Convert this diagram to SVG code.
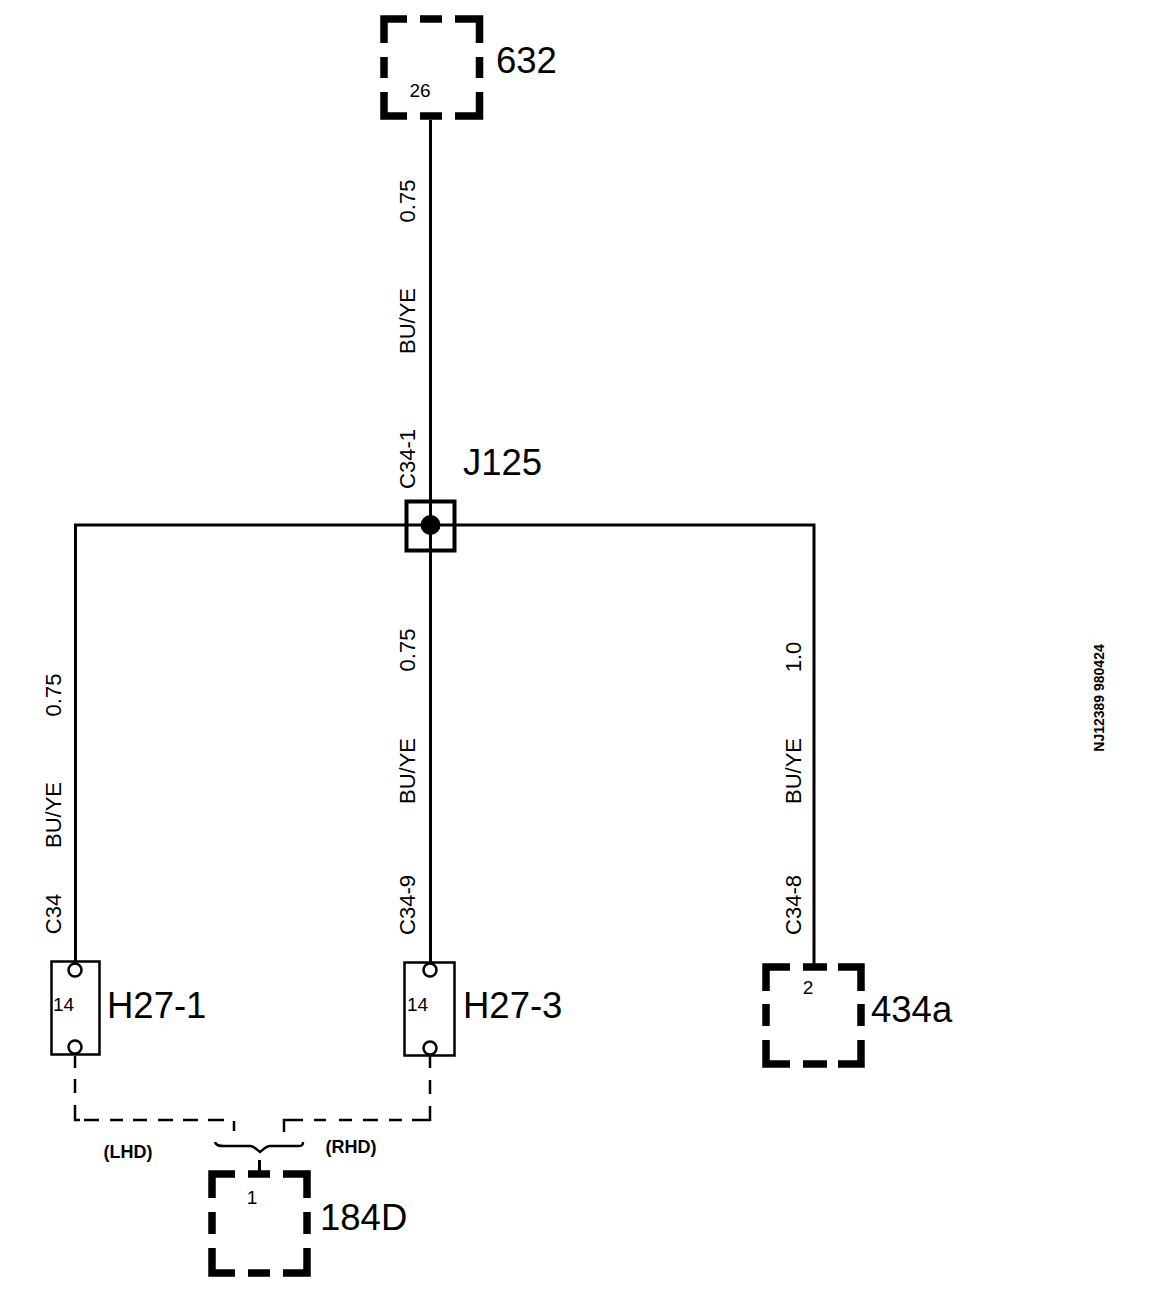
<svg xmlns="http://www.w3.org/2000/svg" width="1152" height="1306" viewBox="0 0 1152 1306">
<style>
text{font-family:"Liberation Sans",Arial,sans-serif;fill:#000}
.big{font-size:36.500px}
.pin{font-size:19px}
.wire{font-size:22px}
.hand{font-size:18px;font-weight:bold}
.code{font-size:14px;font-weight:bold}
.db{fill:none;stroke:#000;stroke-width:7.5}
.ln{fill:none;stroke:#000;stroke-width:3}
.ds{fill:none;stroke:#000;stroke-width:2.5}
.cn{fill:#fff;stroke:#000;stroke-width:2.5}
</style>
<rect width="1152" height="1306" fill="#fff"/>
<g id="connectors">
<path class="ln" d="M430.500 120V962M75.500 961V525H814V964"/>
<path class="ds" d="M75 1056V1068M75 1079V1093M75 1105V1120H80M84 1120H99M110 1120H123M133 1120H147M158 1120H173M183 1120H198M208 1120H224M234 1121V1131M284 1132V1120H303M314 1120H326M339 1120H352M363 1120H378M389 1120H402M412 1120H430V1106M430 1094V1080M430 1068V1056"/>
<path class="ds" d="M215 1142C216 1146 220 1146 224 1146H250C254 1146 257 1150 260 1152C263 1150 266 1146 270 1146H298C301 1146 303 1146 303 1142"/>
<path class="ln" d="M259.500 1160V1172"/>
</g>
<g id="node-632">
<path class="db" d="M407 19H384V43M420 19H442M455 19H479.500V43M384 57V78M479.500 57V78M384 92V116H407M420 116H442M455 116H479.500V92"/>
<text class="pin" x="420" y="97" text-anchor="middle">26</text>
<text class="big" x="496" y="73">632</text>
</g>
<g id="node-J125">
<rect x="406.500" y="501.500" width="48" height="49" fill="none" stroke="#000" stroke-width="4"/>
<circle cx="430.500" cy="525" r="10" fill="#000"/>
<text class="big" x="463" y="475">J125</text>
</g>
<g id="node-H27-1">
<rect x="51.500" y="961.500" width="48" height="93" fill="#fff" stroke="#000" stroke-width="2.500"/>
<circle class="cn" cx="75" cy="970" r="6.500"/>
<circle class="cn" cx="75" cy="1047" r="6.500"/>
<text class="pin" x="53" y="1011">14</text>
<text class="big" x="107" y="1018">H27-1</text>
</g>
<g id="node-H27-3">
<rect x="404.500" y="962.500" width="50" height="93" fill="#fff" stroke="#000" stroke-width="2.500"/>
<circle class="cn" cx="430" cy="970" r="6.500"/>
<circle class="cn" cx="430" cy="1048" r="6.500"/>
<text class="pin" x="407" y="1011">14</text>
<text class="big" x="463" y="1018">H27-3</text>
</g>
<g id="node-434a">
<path class="db" d="M790 967H766V991M803 967H827M838 967H861V991M766 1004V1026M861 1004V1026M766 1040V1064H790M803 1064H827M838 1064H861V1040"/>
<text class="pin" x="808" y="994" text-anchor="middle">2</text>
<text class="big" x="871" y="1022">434a</text>
</g>
<g id="node-184D">
<path class="db" d="M235 1174H212V1198M248 1174H270M283 1174H307V1198M212 1212V1234M307 1212V1234M212 1248V1273H235M248 1273H270M283 1273H307V1248"/>
<text class="pin" x="252" y="1204" text-anchor="middle">1</text>
<text class="big" x="320" y="1230">184D</text>
</g>
<g id="labels">
<text class="wire" transform="translate(415 201) rotate(-90)" text-anchor="middle">0.75</text>
<text class="wire" transform="translate(415 321) rotate(-90)" text-anchor="middle">BU/YE</text>
<text class="wire" transform="translate(415 459) rotate(-90)" text-anchor="middle">C34-1</text>
<text class="wire" transform="translate(61 695) rotate(-90)" text-anchor="middle">0.75</text>
<text class="wire" transform="translate(61 815) rotate(-90)" text-anchor="middle">BU/YE</text>
<text class="wire" transform="translate(61 914) rotate(-90)" text-anchor="middle">C34</text>
<text class="wire" transform="translate(415 650) rotate(-90)" text-anchor="middle">0.75</text>
<text class="wire" transform="translate(415 771) rotate(-90)" text-anchor="middle">BU/YE</text>
<text class="wire" transform="translate(415 905) rotate(-90)" text-anchor="middle">C34-9</text>
<text class="wire" transform="translate(801 657) rotate(-90)" text-anchor="middle">1.0</text>
<text class="wire" transform="translate(801 771) rotate(-90)" text-anchor="middle">BU/YE</text>
<text class="wire" transform="translate(801 905) rotate(-90)" text-anchor="middle">C34-8</text>
<text class="hand" x="128" y="1158" text-anchor="middle">(LHD)</text>
<text class="hand" x="351" y="1153" text-anchor="middle">(RHD)</text>
<text class="code" transform="translate(1104 698) rotate(-90)" text-anchor="middle">NJ12389 980424</text>
</g>
</svg>
